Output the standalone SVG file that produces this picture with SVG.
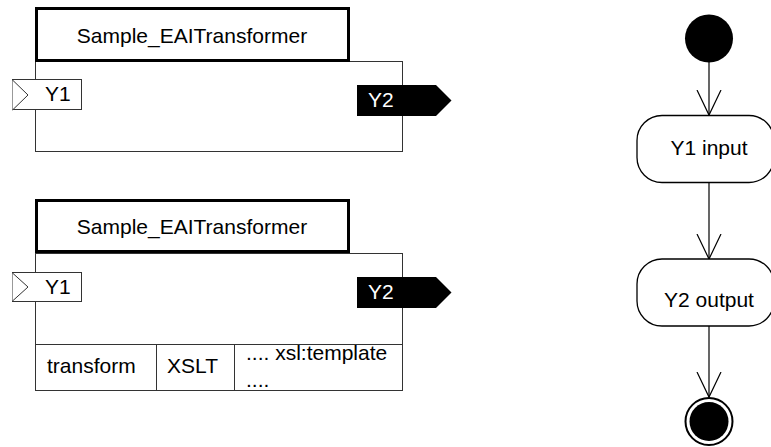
<svg xmlns="http://www.w3.org/2000/svg" width="771" height="447" viewBox="0 0 771 447">
<style>
text{font-family:"Liberation Sans",Arial,sans-serif;font-size:21px;fill:#000}
.title{fill:#fff;stroke:#000;stroke-width:3}
.outer{fill:#fff;stroke:#333;stroke-width:1}
.port{fill:#fff;stroke:#333;stroke-width:1}
.out{fill:#000}
.wt{fill:#fff}
.act{fill:#fff;stroke:#000;stroke-width:1.3}
.conn{stroke:#000;stroke-width:1.2;fill:none}
</style>
<defs>
<marker id="open" markerWidth="28" markerHeight="28" refX="25" refY="13" orient="auto" markerUnits="userSpaceOnUse">
<polyline points="0,1 25,13 0,25" fill="none" stroke="#000" stroke-width="1.2"/>
</marker>
</defs>
<g id="block1">
<rect class="outer" x="35.5" y="61.5" width="367" height="90"/>
<rect class="title" x="36.5" y="8.5" width="312" height="52"/>
<text x="192" y="43" text-anchor="middle">Sample_EAITransformer</text>
<g id="block1-y1">
<rect class="port" x="12.5" y="79.5" width="69" height="30"/>
<polyline class="port" points="12.5,80 28,95 12.5,110" fill="none"/>
<text x="45" y="101">Y1</text>
</g>
<g id="block1-y2">
<polygon class="out" points="357,85 436,85 451.5,100.5 436,116 357,116"/>
<text class="wt" x="368" y="107">Y2</text>
</g>
</g>
<g id="block2">
<rect class="outer" x="35.5" y="253.5" width="367" height="137"/>
<line class="outer" x1="35.5" y1="344.5" x2="402.5" y2="344.5"/>
<line class="outer" x1="156.5" y1="344.5" x2="156.5" y2="390.5"/>
<line class="outer" x1="234.5" y1="344.5" x2="234.5" y2="390.5"/>
<rect class="title" x="36.5" y="200.5" width="312" height="51"/>
<text x="192" y="234" text-anchor="middle">Sample_EAITransformer</text>
<text x="47" y="373">transform</text>
<text x="167" y="373">XSLT</text>
<text x="246" y="360">.... xsl:template</text>
<text x="246" y="387">....</text>
<g id="block2-y1">
<rect class="port" x="12.5" y="272.5" width="69" height="29"/>
<polyline class="port" points="12.5,273 28,287 12.5,301" fill="none"/>
<text x="45" y="294">Y1</text>
</g>
<g id="block2-y2">
<polygon class="out" points="357,277 436,277 451.5,292.5 436,308 357,308"/>
<text class="wt" x="368" y="299">Y2</text>
</g>
</g>
<g id="connectors">
<line class="conn" x1="709" y1="62" x2="709" y2="115" marker-end="url(#open)"/>
<line class="conn" x1="709" y1="182" x2="709" y2="259" marker-end="url(#open)"/>
<line class="conn" x1="709" y1="326" x2="709" y2="397" marker-end="url(#open)"/>
</g>
<g id="start"><circle cx="709" cy="38.5" r="24" fill="#000"/></g>
<g id="y1input">
<rect class="act" x="637" y="115.5" width="137" height="67" rx="25" ry="25"/>
<text x="709" y="155" text-anchor="middle">Y1 input</text>
</g>
<g id="y2output">
<rect class="act" x="637" y="259" width="137" height="67" rx="25" ry="25"/>
<text x="709" y="307" text-anchor="middle">Y2 output</text>
</g>
<g id="end">
<circle cx="709" cy="421.5" r="23.5" fill="#fff" stroke="#000" stroke-width="2"/>
<circle cx="709" cy="421.5" r="19.5" fill="#000"/>
</g>
</svg>
